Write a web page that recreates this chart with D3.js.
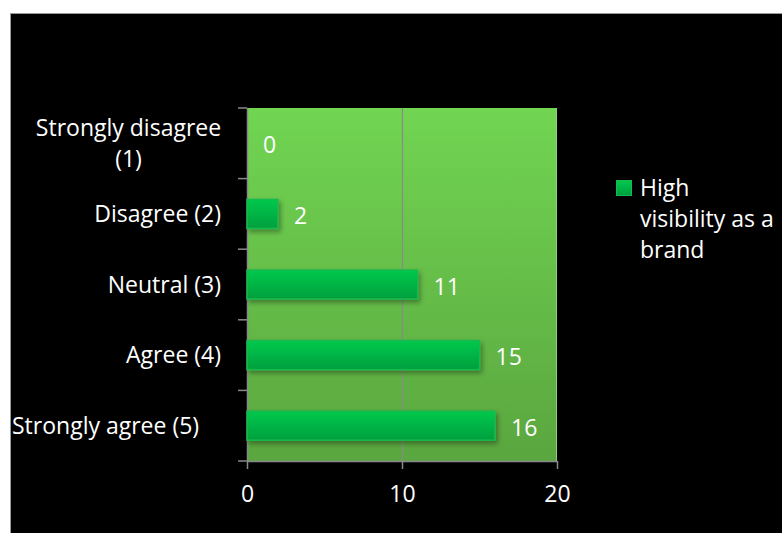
<!DOCTYPE html>
<html><head><meta charset="utf-8">
<script src="https://cdn.jsdelivr.net/npm/d3@7"></script>
<style>html,body{margin:0;padding:0;background:#fff;}svg{display:block;}</style>
</head><body>
<script>
const categories = ["Strongly disagree (1)", "Disagree (2)", "Neutral (3)", "Agree (4)", "Strongly agree (5)"];
const categoryLines = [["Strongly disagree", "(1)"], ["Disagree (2)"], ["Neutral (3)"], ["Agree (4)"], ["Strongly agree (5)"]];
const values = [0, 2, 11, 15, 16];
const seriesName = "High visibility as a brand";
const legendLines = ["High", "visibility as a", "brand"];
const xTicks = [0, 10, 20];

const W = 782, H = 533;
const FONT = "'Open Sans', sans-serif";
const FS = "23px";
const svg = d3.select("body").append("svg").attr("width", W).attr("height", H);
const defs = svg.append("defs");

const bg = defs.append("linearGradient").attr("id", "plotbg").attr("x1", 0).attr("y1", 0).attr("x2", 0).attr("y2", 1);
bg.append("stop").attr("offset", "0%").attr("stop-color", "#71d552");
bg.append("stop").attr("offset", "100%").attr("stop-color", "#5aa63f");
const bg2 = defs.append("linearGradient").attr("id", "bargrad").attr("x1", 0).attr("y1", 0).attr("x2", 0).attr("y2", 1);
bg2.append("stop").attr("offset", "0%").attr("stop-color", "#00c94c");
bg2.append("stop").attr("offset", "100%").attr("stop-color", "#009f3e");
const f = defs.append("filter").attr("id", "shadow").attr("x", "-10%").attr("y", "-30%").attr("width", "130%").attr("height", "190%");
f.append("feDropShadow").attr("dx", 2).attr("dy", 3).attr("stdDeviation", 2.5).attr("flood-color", "#000").attr("flood-opacity", 0.35);

// chart area
svg.append("rect").attr("x", 10.5).attr("y", 13.5).attr("width", W - 10).attr("height", H - 13)
  .attr("fill", "#000").attr("stroke", "#9a9a9a").attr("stroke-width", 1);

const plot = {left: 247, right: 557, top: 108, bottom: 461};
const x = d3.scaleLinear().domain([0, 20]).range([plot.left, plot.right]);
const y = d3.scaleBand().domain(categories).range([plot.top, plot.bottom]).padding(0);

svg.append("rect").attr("x", plot.left).attr("y", plot.top).attr("width", plot.right - plot.left)
  .attr("height", plot.bottom - plot.top).attr("fill", "url(#plotbg)");
svg.append("line").attr("x1", plot.right - 0.5).attr("x2", plot.right - 0.5).attr("y1", plot.top).attr("y2", plot.bottom)
  .attr("stroke", "#8fd27a").attr("stroke-width", 1);

// gridlines
svg.append("g").selectAll("line").data(xTicks.filter(t => t > 0 && t < 20)).join("line")
  .attr("x1", d => x(d) + 0.5).attr("x2", d => x(d) + 0.5).attr("y1", plot.top).attr("y2", plot.bottom)
  .attr("stroke", "#8a8a8a").attr("stroke-width", 1.2);

// axes
const xAxis = svg.append("g").attr("transform", `translate(0,${plot.bottom})`)
  .call(d3.axisBottom(x).tickValues(xTicks).tickSizeInner(8).tickSizeOuter(0).tickPadding(17));
const yAxis = svg.append("g").attr("transform", `translate(${plot.left},0)`)
  .call(d3.axisLeft(y).tickValues([]).tickSizeOuter(0));
[xAxis, yAxis].forEach(a => {
  a.selectAll("path.domain").attr("stroke", "#8a8a8a").attr("stroke-width", 1.5);
  a.selectAll(".tick line").attr("stroke", "#8a8a8a").attr("stroke-width", 1.5);
});
xAxis.selectAll(".tick text").attr("fill", "#fff").style("font-family", FONT).style("font-size", FS);

// y ticks at band boundaries
const bounds = categories.map(c => y(c)).concat([plot.bottom]);
svg.append("g").selectAll("line").data(bounds).join("line")
  .attr("x1", plot.left - 9).attr("x2", plot.left).attr("y1", d => d).attr("y2", d => d)
  .attr("stroke", "#8a8a8a").attr("stroke-width", 1.5);

// category labels
const labelRight = 221;
categories.forEach((c, i) => {
  const lines = categoryLines[i];
  const cy = y(c) + y.bandwidth() / 2;
  const lh = 31;
  const last = i === categories.length - 1;
  const t = svg.append("text").attr("fill", "#fff").style("font-family", FONT).style("font-size", FS)
    .attr("text-anchor", lines.length > 1 ? "middle" : (last ? "start" : "end"));
  const ax = lines.length > 1 ? 128.5 : (last ? 12 : labelRight);
  lines.forEach((ln, k) => {
    t.append("tspan").attr("x", ax).attr("y", cy + (k - (lines.length - 1) / 2) * lh + 2)
      .attr("dominant-baseline", "middle").text(ln);
  });
});

// bars
const barH = y.step() * 0.41;
svg.append("g").selectAll("rect").data(values.map((v, i) => ({v, c: categories[i]})).filter(d => d.v > 0)).join("rect")
  .attr("x", x(0)).attr("y", d => y(d.c) + y.bandwidth() / 2 - barH / 2)
  .attr("width", d => x(d.v) - x(0)).attr("height", barH)
  .attr("fill", "url(#bargrad)").attr("stroke", "#19b94f").attr("stroke-width", 1.5)
  .attr("filter", "url(#shadow)");

// value labels
svg.append("g").selectAll("text").data(values.map((v, i) => ({v, c: categories[i]}))).join("text")
  .attr("x", d => x(d.v) + 16).attr("y", d => y(d.c) + y.bandwidth() / 2 + 4)
  .attr("dominant-baseline", "middle").attr("fill", "#fff")
  .style("font-family", FONT).style("font-size", FS).text(d => d.v);

// legend
svg.append("rect").attr("x", 616.5).attr("y", 180.5).attr("width", 15).attr("height", 15)
  .attr("fill", "url(#bargrad)").attr("stroke", "#19b94f").attr("stroke-width", 1);
const lt = svg.append("text").attr("fill", "#fff").style("font-family", FONT).style("font-size", FS);
legendLines.forEach((ln, k) => {
  lt.append("tspan").attr("x", 640).attr("y", 196 + k * 31).text(ln);
});
</script>
</body></html>
